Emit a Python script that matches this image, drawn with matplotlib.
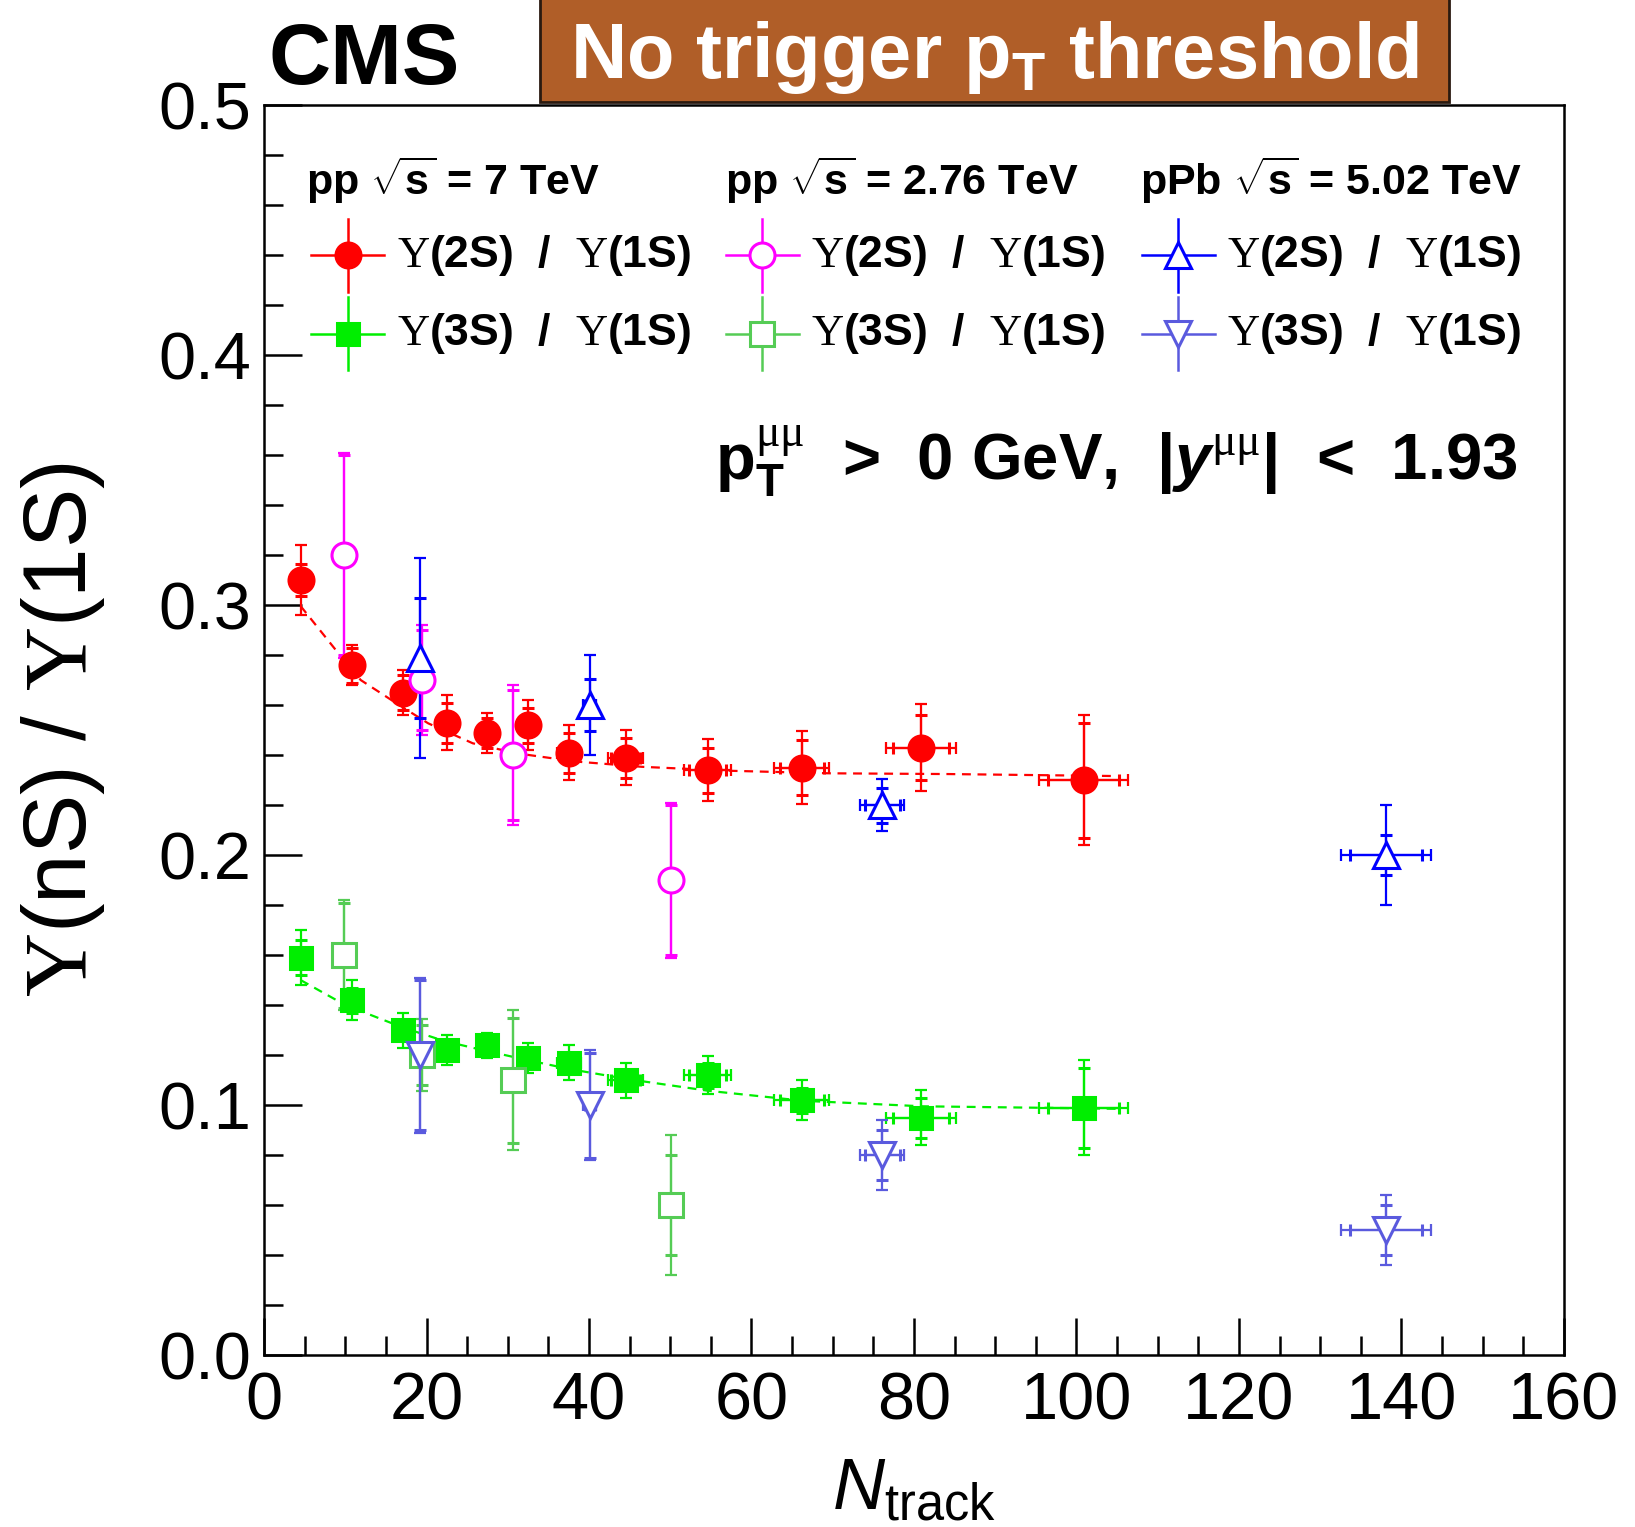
import numpy as np
import matplotlib
matplotlib.use("Agg")
import matplotlib.pyplot as plt
from matplotlib.lines import Line2D
from matplotlib.patches import Rectangle

plt.rcParams['font.family'] = ['Liberation Sans', 'DejaVu Sans']
plt.rcParams['mathtext.fontset'] = 'custom'
plt.rcParams['mathtext.rm'] = 'Liberation Sans'
plt.rcParams['mathtext.it'] = 'Liberation Sans:italic'
plt.rcParams['mathtext.bf'] = 'Liberation Sans:bold'
plt.rcParams['mathtext.sf'] = 'Liberation Serif'
try:
    plt.rcParams['mathtext.bfit'] = 'Liberation Sans:bold:italic'
except KeyError:
    pass

# pp 7 TeV
x_pp7 = [4.5, 10.8, 17.1, 22.5, 27.5, 32.5, 37.5, 44.5, 54.6, 66.2, 80.9, 100.9]
xerr_pp7 = [0.3, 0.4, 0.5, 0.6, 0.8, 1.2, 1.5, 2.2, 2.9, 3.4, 4.3, 5.5]
r21_pp7 = [0.310, 0.276, 0.265, 0.253, 0.249, 0.252, 0.241, 0.239, 0.234, 0.235, 0.243, 0.230]
r21_pp7_tot = [0.014, 0.008, 0.009, 0.011, 0.008, 0.010, 0.011, 0.011, 0.0125, 0.0145, 0.0175, 0.026]
r21_pp7_stat = [0.0065, 0.007, 0.007, 0.008, 0.006, 0.007, 0.008, 0.008, 0.009, 0.011, 0.013, 0.023]
r31_pp7 = [0.159, 0.142, 0.130, 0.122, 0.124, 0.119, 0.117, 0.110, 0.112, 0.102, 0.095, 0.099]
r31_pp7_tot = [0.011, 0.008, 0.007, 0.006, 0.005, 0.006, 0.007, 0.007, 0.0075, 0.008, 0.011, 0.019]
r31_pp7_stat = [0.007, 0.005, 0.004, 0.004, 0.003, 0.004, 0.004, 0.004, 0.005, 0.005, 0.008, 0.016]

# pp 2.76 TeV
x_pp276 = [9.9, 19.5, 30.7, 50.1]
xerr_pp276 = [0.2, 0.3, 0.4, 0.8]
r21_pp276 = [0.320, 0.270, 0.240, 0.190]
r21_pp276_tot = [0.041, 0.022, 0.028, 0.031]
r21_pp276_stat = [0.040, 0.020, 0.026, 0.030]
r31_pp276 = [0.160, 0.120, 0.110, 0.060]
r31_pp276_tot = [0.022, 0.0145, 0.028, 0.028]
r31_pp276_stat = [0.021, 0.012, 0.025, 0.020]

# pPb 5.02 TeV
x_ppb = [19.2, 40.1, 76.1, 138.1]
xerr_ppb = [0.3, 0.8, 2.7, 5.5]
r21_ppb = [0.279, 0.260, 0.220, 0.200]
r21_ppb_tot = [0.040, 0.020, 0.0105, 0.020]
r21_ppb_stat = [0.024, 0.0105, 0.007, 0.008]
r31_ppb = [0.120, 0.100, 0.080, 0.050]
r31_ppb_tot = [0.031, 0.022, 0.014, 0.014]
r31_ppb_stat = [0.030, 0.021, 0.010, 0.010]

# dashed fit curves
fit21_x = [4.5, 9.5, 11.9, 16.3, 20.2, 25.7, 31.1, 35.5, 38.8, 46.5, 57.5, 69.6, 84.3, 105.0]
fit21_y = [0.2996, 0.2793, 0.2700, 0.2607, 0.2527, 0.2447, 0.2407, 0.2387, 0.2373, 0.2353,
           0.2337, 0.2327, 0.2324, 0.2316]
fit31_x = [4.5, 10.0, 17.1, 22.3, 27.3, 32.4, 37.6, 44.7, 54.7, 66.4, 81.1, 100.9, 105.0]
fit31_y = [0.150, 0.140, 0.131, 0.1255, 0.1217, 0.118, 0.1144, 0.1104, 0.1057, 0.1017,
           0.0995, 0.0987, 0.0985]

c_red, c_green = '#ff0000', '#00ee00'
c_mag, c_lgreen = '#ff00ff', '#55cc55'
c_blue, c_slate = '#0000ff', '#5a5ade'

fig = plt.figure(figsize=(16.35, 15.27), dpi=100)
ax = fig.add_axes([0.1615, 0.1126, 0.795, 0.8186])

ax.plot(fit21_x, fit21_y, color=c_red, lw=1.6, ls=(0, (4, 3)), zorder=1)
ax.plot(fit31_x, fit31_y, color=c_green, lw=1.6, ls=(0, (4, 3)), zorder=1)


def draw(x, y, xe, ye_tot, ye_stat, color, marker, filled, ms):
    xe = np.array(xe)
    ax.errorbar(x, y, xerr=xe, yerr=ye_tot, fmt='none', ecolor=color,
                elinewidth=1.6, capsize=4, capthick=1.6, zorder=2)
    ax.errorbar(x, y, xerr=xe * 0.8, yerr=ye_stat, fmt=marker, color=color, ms=ms,
                mfc=color if filled else 'white', mec=color, mew=2.2,
                elinewidth=1.6, capsize=4, capthick=1.6, zorder=3)


draw(x_pp7, r21_pp7, xerr_pp7, r21_pp7_tot, r21_pp7_stat, c_red, 'o', True, 18)
draw(x_pp7, r31_pp7, xerr_pp7, r31_pp7_tot, r31_pp7_stat, c_green, 's', True, 16)
draw(x_pp276, r21_pp276, xerr_pp276, r21_pp276_tot, r21_pp276_stat, c_mag, 'o', False, 18)
draw(x_pp276, r31_pp276, xerr_pp276, r31_pp276_tot, r31_pp276_stat, c_lgreen, 's', False, 17)
draw(x_ppb, r21_ppb, xerr_ppb, r21_ppb_tot, r21_ppb_stat, c_blue, '^', False, 19)
draw(x_ppb, r31_ppb, xerr_ppb, r31_ppb_tot, r31_ppb_stat, c_slate, 'v', False, 19)

ax.set_xlim(0, 160)
ax.set_ylim(0, 0.5)
ax.set_xticks(np.arange(0, 161, 20))
ax.set_xticks(np.arange(0, 161, 5), minor=True)
ax.set_yticks(np.arange(0, 0.51, 0.1))
ax.set_yticks(np.arange(0, 0.51, 0.02), minor=True)
ax.set_yticklabels(['0.0', '0.1', '0.2', '0.3', '0.4', '0.5'])
ax.tick_params(which='both', direction='in', top=False, right=False, width=1.8,
               labelsize=48)
ax.tick_params(which='major', length=27, pad=9)
ax.tick_params(which='minor', length=14)
ax.tick_params(axis='x', pad=12)
for s in ax.spines.values():
    s.set_linewidth(1.8)

ax.set_ylabel(r'$\mathsf{\Upsilon}$(nS) / $\mathsf{\Upsilon}$(1S)', fontsize=64)
ax.yaxis.set_label_coords(-0.121, 0.50)
ax.set_xlabel(r'$\mathit{N}_{\mathrm{track}}$', fontsize=52)
ax.xaxis.set_label_coords(0.50, -0.082)

# legend, drawn by hand in three columns
headers = [r'pp $\sqrt{\mathbf{s}}$ = 7 TeV', r'pp $\sqrt{\mathbf{s}}$ = 2.76 TeV',
           r'pPb $\sqrt{\mathbf{s}}$ = 5.02 TeV']
head_x = [0.032, 0.3545, 0.6736]
col_x = [0.0642, 0.3833, 0.7033]
row_y = [0.8798, 0.8172]
lab21 = r'$\mathsf{\Upsilon}$(2S)  /  $\mathsf{\Upsilon}$(1S)'
lab31 = r'$\mathsf{\Upsilon}$(3S)  /  $\mathsf{\Upsilon}$(1S)'
leg_items = [
    [(c_red, 'o', True, 18, lab21), (c_green, 's', True, 16, lab31)],
    [(c_mag, 'o', False, 18, lab21), (c_lgreen, 's', False, 17, lab31)],
    [(c_blue, '^', False, 19, lab21), (c_slate, 'v', False, 19, lab31)],
]
for hx, cx, head, items in zip(head_x, col_x, headers, leg_items):
    ax.text(hx, 0.928, head, transform=ax.transAxes, fontsize=31, fontweight='bold',
            ha='left', va='baseline')
    for ry, (col, mk, filled, ms, lab) in zip(row_y, items):
        ax.add_line(Line2D([cx - 0.028, cx + 0.028], [ry, ry], color=col, lw=1.8,
                           transform=ax.transAxes))
        ax.add_line(Line2D([cx, cx], [ry - 0.029, ry + 0.029], color=col, lw=1.8,
                           transform=ax.transAxes))
        ax.add_line(Line2D([cx], [ry], marker=mk, ms=ms, color=col, mec=col, mew=2.2,
                           mfc=col if filled else 'white', transform=ax.transAxes))
        ax.text(cx + 0.0377, ry, lab, transform=ax.transAxes, fontsize=32,
                fontweight='bold', ha='left', va='center')

ax.text(0.964, 0.700,
        r'$\mathbf{p}_{\mathbf{T}}^{\mathsf{\mu\mu}}$  >  0 GeV,  |$\mathbfit{y}^{\mathsf{\mu\mu}}$|  <  1.93',
        transform=ax.transAxes, fontsize=47, fontweight='bold', ha='right', va='baseline')

fig.text(0.164, 0.945, 'CMS', fontsize=62, fontweight='bold', ha='left', va='baseline')

fig.patches.append(Rectangle((0.3304, 0.933), 0.5561, 0.08, transform=fig.transFigure,
                             facecolor='#b05e28', edgecolor='#2a1a10', lw=2.0))
fig.text(0.6085, 0.949, r'No trigger p$_{\mathbf{T}}$ threshold', fontsize=56,
         fontweight='bold', color='white', ha='center', va='baseline')

fig.savefig('out.png', dpi=100)
